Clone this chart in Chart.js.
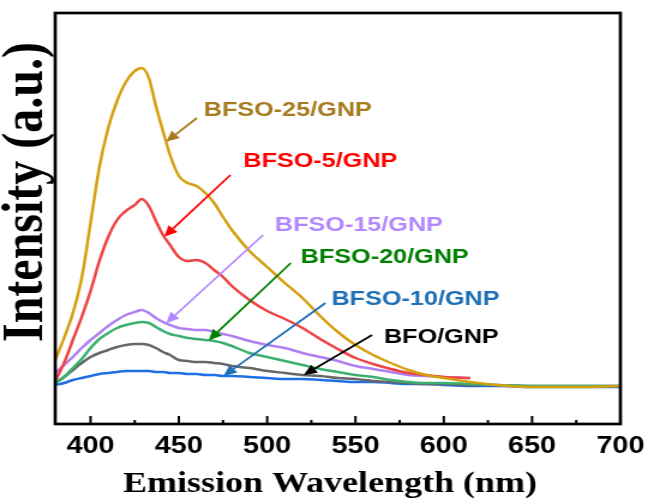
<!DOCTYPE html>
<html><head><meta charset="utf-8">
<script src="https://cdn.jsdelivr.net/npm/chart.js@4.4.1/dist/chart.umd.min.js"></script>
<style>
html,body{margin:0;padding:0;background:#fff;overflow:hidden;}
#wrap{width:545px;height:499px;transform:scaleX(1.2);transform-origin:0 0;}
canvas{display:block;}
</style></head><body>
<div id="wrap"><canvas id="c" width="545" height="499"></canvas></div>
<script>
// Emission wavelength (nm)
const wavelengths = [380,385,390,395,400,405,410,415,420,425,429,433,437,441,445,450,455,460,465,470,475,480,490,500,510,520,530,540,550,560,570,580,590,600,615,630,650,675,700];
// PL intensity (a.u.)
const bfso25 = [63,85,110,145,200,256,295,322,341,352,355,345,317,292,268,247,240,237,230,220,206,193,172,156,140,125,107,91,78,68,60,53,48,45,41,38,36,36,37];
const bfso5  = [42,60,83,106,132,162,186,203,212,218,224,217,202,188,178,166,162,163,160,153,146,137,123,112,104,95,84,74,65,59,54,50,48,46,45,null,null,null,null];
const bfso15 = [50,58,66,75,83,90,97,103,108,111,113,110,105,101,98,95,94,93,93,91,89,87,82,78,75,70,66,62,57,54,51,48,47,46,45,null,null,null,null];
const bfso20 = [40,46,55,64,75,84,90,95,98,100,101,100,96,92,89,87,85,84,83,82,80,77,70,66,62,58,54,51,48,46,43,41,40,40,39,38,37,37,37];
const bfo    = [40,46,53,60,66,70,73,76,78,79,79,78,75,71,68,63,62,61,61,60,59,57,55,52,50,48,47,45,44,42,41,40,39,39,38,38,37,37,37];
const bfso10 = [38,40,43,45,47,49,50,51,52,52,52,52,51,51,50,50,49,49,48,48,47,47,46,45,44,44,43,42,41,41,40,39,39,38,37,37,36,36,36];
const seriesNames = ['BFSO-25/GNP','BFSO-5/GNP','BFSO-15/GNP','BFSO-20/GNP','BFO/GNP','BFSO-10/GNP'];
const xTickLabels = ['400','450','500','550','600','650','700'];
const xTickValues = [400,425,450,475,500,525,550,575,600,625,650,675,700];

const seriesValues = [bfso25, bfso5, bfso15, bfso20, bfo, bfso10];
const lineColors = ['#D4A010','#EE4444','#B080F0','#3CB070','#666666','#1F6FE5'];

// label annotations: text anchor and arrow (data units), arrow tip sits on the curve
const labelText   = ['BFSO-25/GNP','BFSO-5/GNP','BFSO-15/GNP','BFSO-20/GNP','BFSO-10/GNP','BFO/GNP'];
const labelSeries = [0,1,2,3,5,4];
const labelColors = ['#A67C1F','#FF0000','#B388FF','#008000','#1E6FB5','#000000'];
const labelX      = [464.1,486.5,504.4,519.0,536.4,566.1];
const labelY      = [313,262,198,166,124,86];
const arrowFromX  = [460.2,479.2,497.7,513.4,533.0,559.4];
const arrowFromY  = [305,248,188,160,120,88];
const arrowTipX   = [442.8,441.7,442.8,466.9,475.3,520.7];

function valueAt(arr, lam){
  for (let i=0;i<wavelengths.length-1;i++){
    if (lam>=wavelengths[i] && lam<=wavelengths[i+1]){
      const t=(lam-wavelengths[i])/(wavelengths[i+1]-wavelengths[i]);
      return arr[i]+(arr[i+1]-arr[i])*t;
    }
  }
  return arr[arr.length-1];
}
function arrow(ctx,x1,y1,x2,y2,color){
  const a=Math.atan2(y2-y1,x2-x1), hl=11, hw=5;
  const bx=x2-hl*Math.cos(a), by=y2-hl*Math.sin(a);
  ctx.strokeStyle=color; ctx.lineWidth=1.8;
  ctx.beginPath(); ctx.moveTo(x1,y1); ctx.lineTo(bx,by); ctx.stroke();
  ctx.fillStyle=color; ctx.beginPath();
  ctx.moveTo(x2,y2);
  ctx.lineTo(bx+hw*Math.sin(a), by-hw*Math.cos(a));
  ctx.lineTo(bx-hw*Math.sin(a), by+hw*Math.cos(a));
  ctx.closePath(); ctx.fill();
}

const decor = {
  id:'decor',
  afterDatasetsDraw(chart){
    const ctx=chart.ctx, xs=chart.scales.x, ys=chart.scales.y, ca=chart.chartArea;
    ctx.save();
    for (let i=0;i<labelText.length;i++){
      const tipY = valueAt(seriesValues[labelSeries[i]], arrowTipX[i]);
      arrow(ctx, xs.getPixelForValue(arrowFromX[i]), ys.getPixelForValue(arrowFromY[i]),
            xs.getPixelForValue(arrowTipX[i]), ys.getPixelForValue(tipY), labelColors[i]);
      ctx.fillStyle=labelColors[i];
      ctx.font='bold 21px "Liberation Sans", Arial, sans-serif';
      ctx.textAlign='left'; ctx.textBaseline='middle';
      ctx.fillText(labelText[i], xs.getPixelForValue(labelX[i]), ys.getPixelForValue(labelY[i]));
    }
    ctx.strokeStyle='#000'; ctx.lineWidth=2.7;
    ctx.strokeRect(ca.left, ca.top, ca.right-ca.left, ca.bottom-ca.top);
    ctx.lineWidth=2;
    xs.ticks.forEach(t=>{
      if (t.value<=380 || t.value>=700) return;
      const px=xs.getPixelForValue(t.value);
      const len = (t.value%50===0)?8:4;
      ctx.beginPath(); ctx.moveTo(px, ca.bottom); ctx.lineTo(px, ca.bottom-len); ctx.stroke();
    });
    ctx.fillStyle='#000';
    ctx.font='bold 30px "Liberation Serif", "Times New Roman", serif';
    ctx.textAlign='center'; ctx.textBaseline='alphabetic';
    ctx.fillText('Emission Wavelength (nm)', 275, 492);
    ctx.save();
    ctx.translate(23, 192); ctx.rotate(-Math.PI/2);
    ctx.font='bold 48px "Liberation Serif", "Times New Roman", serif';
    ctx.textAlign='center'; ctx.textBaseline='middle';
    ctx.fillText('Intensity (a.u.)', 0, 0);
    ctx.restore();
    ctx.restore();
  }
};

new Chart(document.getElementById('c'), {
  type:'line',
  data:{
    datasets: seriesValues.map((arr,k)=>({
      label: seriesNames[k],
      data: wavelengths.map((w,i)=>({x:w, y:arr[i]})),
      borderColor: lineColors[k],
      backgroundColor: lineColors[k],
      borderWidth: 2.5,
      pointRadius: 0,
      fill: false,
      cubicInterpolationMode: 'monotone',
      spanGaps: false
    }))
  },
  options:{
    responsive:false, animation:false, devicePixelRatio:1,
    layout:{padding:{left:46,right:23,top:13,bottom:0}},
    plugins:{legend:{display:false}, tooltip:{enabled:false}},
    scales:{
      x:{
        type:'linear', min:380, max:700,
        grid:{display:false, drawTicks:false},
        border:{display:false},
        afterBuildTicks:(s)=>{ s.ticks = xTickValues.map(v=>({value:v})); },
        ticks:{
          autoSkip:false, maxRotation:0, minRotation:0, padding:8,
          color:'#000',
          font:{family:'"Liberation Sans", Arial, sans-serif', size:24, weight:'bold'},
          callback:(v)=> xTickLabels.includes(String(v)) ? String(v) : ''
        },
        afterFit:(s)=>{ s.height=75; }
      },
      y:{display:false, min:-1, max:410}
    }
  },
  plugins:[decor]
});
</script>
</body></html>
